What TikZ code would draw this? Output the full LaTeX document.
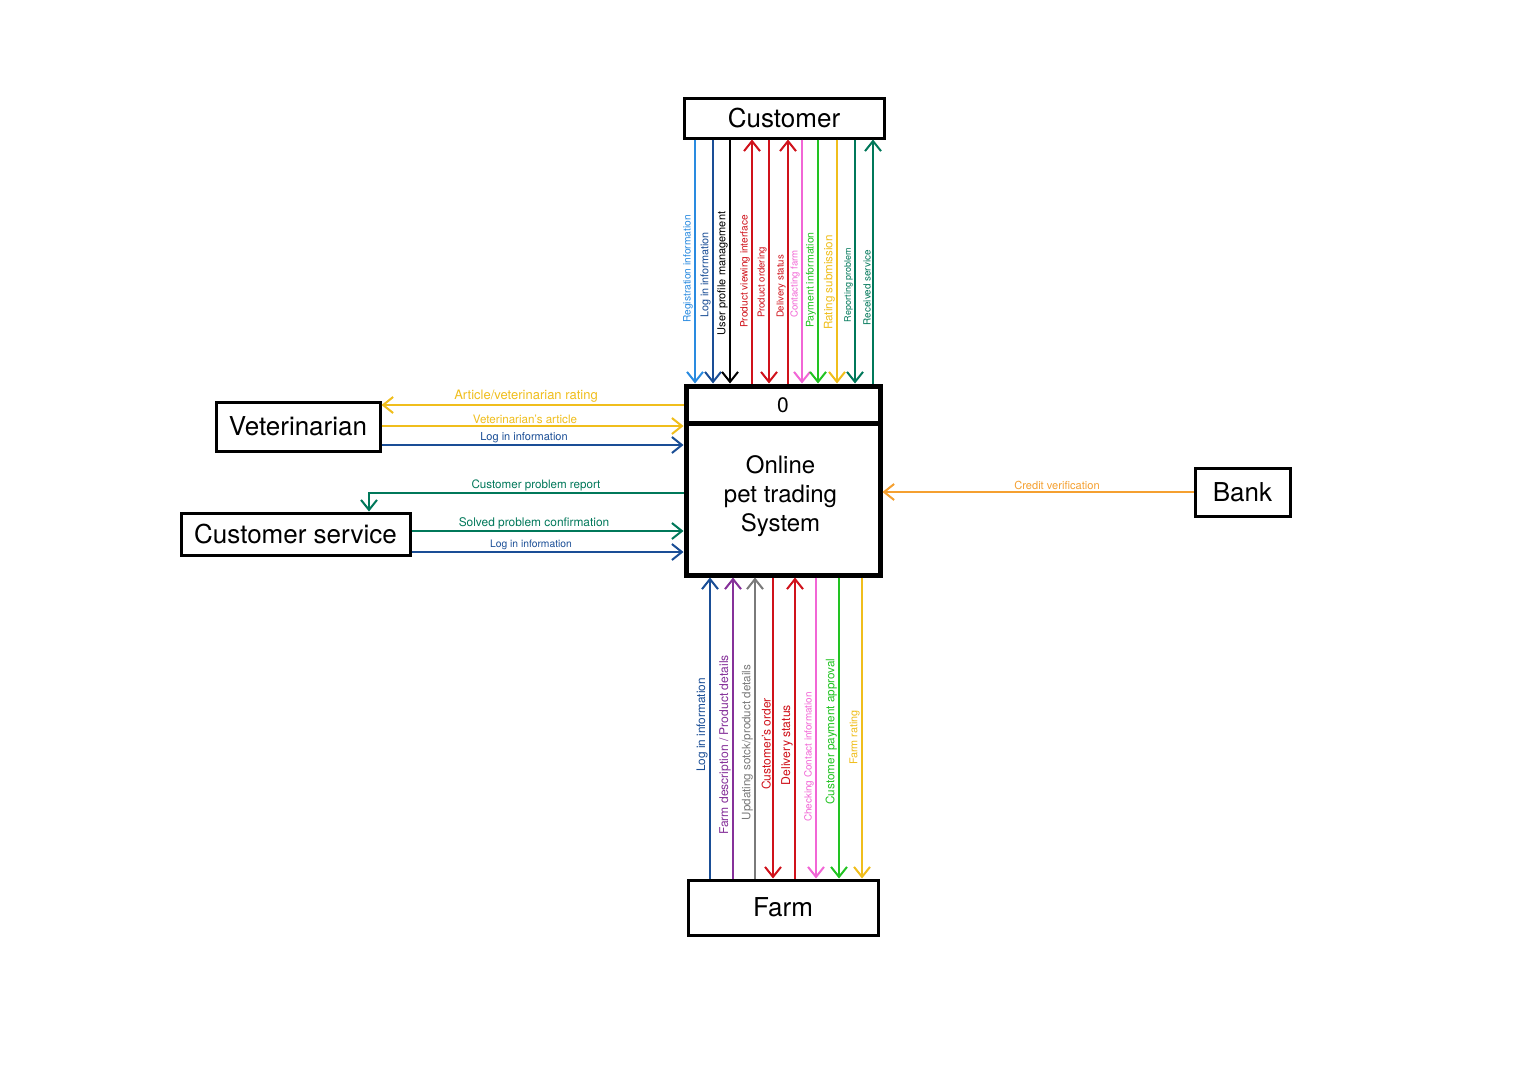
\documentclass[tikz,border=0pt]{standalone}
\usepackage{fontspec}
\setmainfont{TeX Gyre Heros}
\usetikzlibrary{arrows.meta}
\definecolor{lblue}{HTML}{2A8BE0}
\definecolor{dblue}{HTML}{1A4E96}
\definecolor{dred}{HTML}{D0121B}
\definecolor{dpink}{HTML}{F266D6}
\definecolor{dgreen}{HTML}{22C322}
\definecolor{dyellow}{HTML}{F0BE1C}
\definecolor{dteal}{HTML}{00785A}
\definecolor{dpurple}{HTML}{86319A}
\definecolor{dgray}{HTML}{7A7A7A}
\definecolor{dorange}{HTML}{F5A030}
\begin{document}
\begin{tikzpicture}[x=1pt,y=-1pt,
  box/.style={draw, line width=3pt, inner sep=0pt, font=\fontsize{26}{30}\selectfont},
  arr/.style={line width=2pt, -{Straight Barb[length=10pt,width=16pt]}},
  lab/.style={inner sep=1pt, font=\fontsize{#1}{#1}\selectfont},
  vlab/.style={lab=#1, rotate=90, anchor=south},
  hlab/.style={lab=#1, anchor=south}]
\fill[white] (0,0) rectangle (1522,1076);
\useasboundingbox (0,0) rectangle (1522,1076);

% boxes
\node[box, minimum width=200pt, minimum height=40pt] (C) at (784,118) {Customer};
\node[box, line width=5pt, minimum width=194pt, minimum height=189pt] (P) at (783,480.5) {};
\draw[line width=5pt] (P.west |- 0,423) -- (P.east |- 0,423);
\node[inner sep=0pt, font=\fontsize{21}{24}\selectfont] (P0) at (783,405) {0};
\node[inner sep=0pt, align=center, font=\fontsize{24}{29}\selectfont] (Pt) at (780.5,496.5) {Online\\pet trading\\System};
\node[box, minimum width=164pt, minimum height=49pt] (V) at (298,426.5) {Veterinarian};
\node[box, minimum width=229pt, minimum height=42pt] (S) at (295.5,534) {Customer service};
\node[box, minimum width=95pt, minimum height=48pt] (B) at (1242.5,492) {Bank};
\node[box, minimum width=190pt, minimum height=55pt] (F) at (783,907.5) {Farm};

% top arrows Customer <-> Process
\draw[arr, lblue] (C.south -| 695,0) -- (P.north -| 695,0);
\draw[arr, dblue] (C.south -| 713,0) -- (P.north -| 713,0);
\draw[arr, black] (C.south -| 730,0) -- (P.north -| 730,0);
\draw[arr, dred] (P.north -| 752,0) -- (C.south -| 752,0);
\draw[arr, dred] (C.south -| 769,0) -- (P.north -| 769,0);
\draw[arr, dred] (P.north -| 788,0) -- (C.south -| 788,0);
\draw[arr, dpink] (C.south -| 802,0) -- (P.north -| 802,0);
\draw[arr, dgreen] (C.south -| 818,0) -- (P.north -| 818,0);
\draw[arr, dyellow] (C.south -| 837,0) -- (P.north -| 837,0);
\draw[arr, dteal] (C.south -| 855,0) -- (P.north -| 855,0);
\draw[arr, dteal] (P.north -| 873,0) -- (C.south -| 873,0);

\node[vlab=10.2, text=lblue] (t1) at (694,269) {Registration information};
\node[vlab=10.8, text=dblue] (t2) at (712,275) {Log in information};
\node[vlab=11, text=black] (t3) at (729,273.5) {User profile management};
\node[vlab=10.1, text=dred] (t4) at (751,271.5) {Product viewing interface};
\node[vlab=9.6, text=dred] (t5) at (768,282.5) {Product ordering};
\node[vlab=9.6, text=dred] (t6) at (787,286.5) {Delivery status};
\node[vlab=9.6, text=dpink] (t7) at (801,284) {Contacting farm};
\node[vlab=10.5, text=dgreen] (t8) at (817,280) {Payment information};
\node[vlab=11.6, text=dyellow] (t9) at (836,282.5) {Rating submission};
\node[vlab=9, text=dteal] (t10) at (854,285) {Reporting problem};
\node[vlab=9.9, text=dteal] (t11) at (872,287.5) {Received service};

% bottom arrows Process <-> Farm
\draw[arr, dblue] (F.north -| 710,0) -- (P.south -| 710,0);
\draw[arr, dpurple] (F.north -| 733,0) -- (P.south -| 733,0);
\draw[arr, dgray] (F.north -| 755,0) -- (P.south -| 755,0);
\draw[arr, dred] (P.south -| 773,0) -- (F.north -| 773,0);
\draw[arr, dred] (F.north -| 795,0) -- (P.south -| 795,0);
\draw[arr, dpink] (P.south -| 816,0) -- (F.north -| 816,0);
\draw[arr, dgreen] (P.south -| 839,0) -- (F.north -| 839,0);
\draw[arr, dyellow] (P.south -| 862,0) -- (F.north -| 862,0);

\node[vlab=11.8, text=dblue] (b1) at (709,725) {Log in information};
\node[vlab=12.1, text=dpurple] (b2) at (732,745) {Farm description / Product details};
\node[vlab=11.6, text=dgray] (b3) at (754,742.5) {Updating sotck/product details};
\node[vlab=12, text=dred] (b4) at (772,744) {Customer's order};
\node[vlab=12.2, text=dred] (b5) at (794,745) {Delivery status};
\node[vlab=9.9, text=dpink] (b6) at (815,757) {Checking Contact information};
\node[vlab=11.7, text=dgreen] (b7) at (838,731.5) {Customer payment approval};
\node[vlab=10.8, text=dyellow] (b8) at (861,737.5) {Farm rating};

% left arrows
\draw[arr, dyellow] (P.west |- 0,405) -- (V.east |- 0,405);
\draw[arr, dyellow] (V.east |- 0,426) -- (P.west |- 0,426);
\draw[arr, dblue] (V.east |- 0,445) -- (P.west |- 0,445);
\draw[arr, dteal] (P.west |- 0,493) -| (S.north -| 369,0);
\draw[arr, dteal] (S.east |- 0,531) -- (P.west |- 0,531);
\draw[arr, dblue] (S.east |- 0,552) -- (P.west |- 0,552);

\node[hlab=13, text=dyellow] (h1) at (526,404) {Article/veterinarian rating};
\node[hlab=11.6, text=dyellow] (h2) at (525,425) {Veterinarian's article};
\node[hlab=11, text=dblue] (h3) at (524,444) {Log in information};
\node[hlab=11.6, text=dteal] (h4) at (536,492) {Customer problem report};
\node[hlab=11.9, text=dteal] (h5) at (534,530) {Solved problem confirmation};
\node[hlab=10.3, text=dblue] (h6) at (531,551) {Log in information};

% bank
\draw[arr, dorange] (B.west) -- (P.east |- B.west);
\node[hlab=11.1, text=dorange] (h7) at (1057,491) {Credit verification};
\end{tikzpicture}
\end{document}
